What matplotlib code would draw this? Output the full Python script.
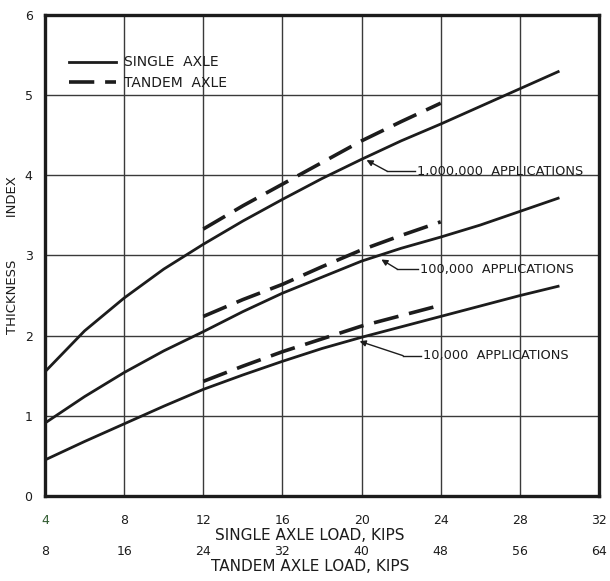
import numpy as np
import matplotlib
matplotlib.use('Agg')
import matplotlib.pyplot as plt
from matplotlib.lines import Line2D

# single axle load (kips) and thickness index
single_load = [4, 6, 8, 10, 12, 14, 16, 18, 20, 22, 24, 26, 28, 30]
single_1m = [1.55, 2.06, 2.47, 2.83, 3.14, 3.43, 3.70, 3.96, 4.20, 4.43, 4.64, 4.86, 5.08, 5.30]
single_100k = [0.91, 1.24, 1.54, 1.81, 2.05, 2.30, 2.53, 2.73, 2.93, 3.09, 3.23, 3.38, 3.55, 3.72]
single_10k = [0.45, 0.68, 0.90, 1.12, 1.33, 1.51, 1.68, 1.84, 1.98, 2.11, 2.24, 2.37, 2.50, 2.62]

# tandem curves plotted against the single axle scale (tandem = 2 x single)
tandem_load = [12, 14, 16, 18, 20, 22, 24]
tandem_1m = [3.33, 3.62, 3.89, 4.16, 4.43, 4.67, 4.90]
tandem_100k = [2.24, 2.45, 2.64, 2.86, 3.07, 3.25, 3.42]
tandem_10k = [1.43, 1.62, 1.80, 1.96, 2.12, 2.25, 2.38]

labels = ['1,000,000  APPLICATIONS', '100,000  APPLICATIONS', '10,000  APPLICATIONS']
label_tips = [(20.25, 4.19), (21.0, 2.95), (19.9, 1.93)]   # arrow points
label_knees = [(21.3, 4.05), (21.8, 2.83), (22.1, 1.75)]   # bend of leader
label_text = [(22.8, 4.05), (22.95, 2.83), (23.1, 1.75)]

x_ticks = [4, 8, 12, 16, 20, 24, 28, 32]
y_ticks = [0, 1, 2, 3, 4, 5, 6]

INK = '#1c1c1c'

plt.rcParams['font.family'] = ['DejaVu Sans']
fig = plt.figure(figsize=(6.1, 5.81), dpi=100)
ax = fig.add_axes([0.0738, 0.1463, 0.9082, 0.8279])

ax.set_xlim(4, 32)
ax.set_ylim(0, 6)
ax.set_xticks(x_ticks)
ax.set_yticks(y_ticks)
ax.grid(True, color='#3a3a3a', linewidth=1.0)
ax.set_axisbelow(True)
for s in ax.spines.values():
    s.set_linewidth(2.4)
    s.set_color(INK)

for ys in (single_1m, single_100k, single_10k):
    ax.plot(single_load, ys, color=INK, linewidth=2.0, solid_capstyle='butt')
for ys in (tandem_1m, tandem_100k, tandem_10k):
    ax.plot(tandem_load, ys, color=INK, linewidth=2.6, dashes=(7, 3))

for lab, tip, knee, txt in zip(labels, label_tips, label_knees, label_text):
    ax.plot([knee[0], txt[0] - 0.1], [knee[1], txt[1]], color=INK, linewidth=1.0)
    ax.annotate('', xy=tip, xytext=knee,
                arrowprops=dict(arrowstyle='-|>', color=INK, lw=1.0,
                                mutation_scale=9, shrinkA=0, shrinkB=0))
    ax.text(txt[0], txt[1], lab, fontsize=9.3, color=INK, va='center', ha='left')

handles = [Line2D([], [], color=INK, linewidth=2.0),
           Line2D([], [], color=INK, linewidth=2.6, dashes=(7, 3))]
ax.legend(handles, ['SINGLE  AXLE', 'TANDEM  AXLE'], loc='upper left',
          bbox_to_anchor=(0.02, 0.942), frameon=False, fontsize=10,
          handlelength=3.4, handletextpad=0.6, labelspacing=0.5,
          labelcolor=INK)

ax.tick_params(axis='both', length=0, labelsize=9, colors=INK)
ax.tick_params(axis='x', pad=13)
ax.tick_params(axis='y', pad=9)
ax.get_xticklabels()[0].set_color('#2f5a2f')
ax.set_xlabel('SINGLE AXLE LOAD, KIPS', fontsize=11, color=INK, labelpad=1)
ax.xaxis.label.set_x(0.478)
ax.set_ylabel('THICKNESS          INDEX', fontsize=9.5, color=INK, labelpad=4)

sec = ax.secondary_xaxis('bottom', functions=(lambda x: x * 2, lambda x: x / 2))
sec.set_xticks([2 * v for v in x_ticks])
sec.spines['bottom'].set_visible(False)
sec.tick_params(length=0, pad=35, labelsize=9, colors=INK)
sec.set_xlabel('TANDEM AXLE LOAD, KIPS', fontsize=11, color=INK, labelpad=1)
sec.xaxis.label.set_x(0.478)

fig.savefig('out.png', dpi=100, facecolor='white')
